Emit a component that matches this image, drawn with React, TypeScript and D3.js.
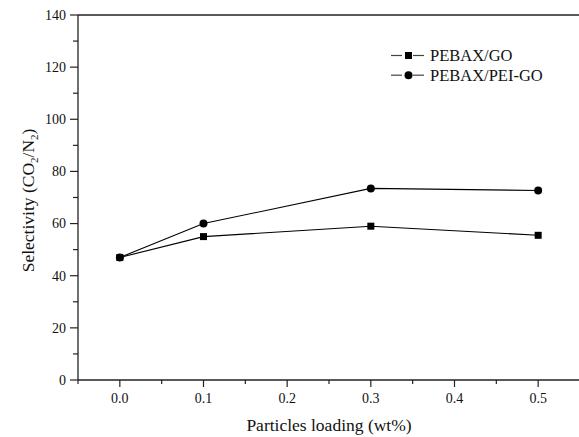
import React from "react";
import * as d3 from "d3";

const loadings = [0.0, 0.1, 0.3, 0.5];
const pebaxGO = [47, 55, 59, 55.5];
const pebaxPEIGO = [47, 60, 73.5, 72.7];
const seriesNames = ["PEBAX/GO", "PEBAX/PEI-GO"];
const xTicks = [0.0, 0.1, 0.2, 0.3, 0.4, 0.5];
const xMinor = [-0.05, 0.05, 0.15, 0.25, 0.35, 0.45, 0.55];
const yTicks = [0, 20, 40, 60, 80, 100, 120, 140];
const yMinor = [10, 30, 50, 70, 90, 110, 130];

const W = 579;
const H = 437;
const TXT = { fontFamily: "Liberation Serif" };

export default function App() {
  const x = d3.scaleLinear().domain([-0.05, 0.55]).range([78, 580]);
  const y = d3.scaleLinear().domain([0, 140]).range([380, 15]);

  const line = d3
    .line<number>()
    .x((_, i) => x(loadings[i]))
    .y((d) => y(d));

  const x0 = x(-0.05);
  const y0 = y(0);

  return (
    <svg
      width={W}
      height={H}
      style={{ position: "absolute", left: 0, top: 0, background: "#fff" }}
    >
      <rect width={W} height={H} fill="#fff" />
      {/* frame */}
      <line x1={x0} x2={W} y1={y(140)} y2={y(140)} stroke="#222" strokeWidth={1.3} />
      <line x1={x0} x2={x0} y1={y(140)} y2={y0} stroke="#222" strokeWidth={1.3} />
      <line x1={x0} x2={W} y1={y0} y2={y0} stroke="#222" strokeWidth={1.3} />

      {/* y ticks */}
      {yTicks.map((t) => (
        <g key={"yt" + t}>
          <line x1={x0 - 8} x2={x0} y1={y(t)} y2={y(t)} stroke="#222" strokeWidth={1.2} />
          <text x={x0 - 12} y={y(t)} dy="0.35em" textAnchor="end" fontSize={14} fill="#111" style={TXT}>
            {t}
          </text>
        </g>
      ))}
      {yMinor.map((t) => (
        <line key={"ym" + t} x1={x0 - 5} x2={x0} y1={y(t)} y2={y(t)} stroke="#222" strokeWidth={1.2} />
      ))}

      {/* x ticks */}
      {xTicks.map((t) => (
        <g key={"xt" + t}>
          <line x1={x(t)} x2={x(t)} y1={y0} y2={y0 + 7} stroke="#222" strokeWidth={1.2} />
          <text x={x(t)} y={y0 + 23} textAnchor="middle" fontSize={14} fill="#111" style={TXT}>
            {d3.format(".1f")(t)}
          </text>
        </g>
      ))}
      {xMinor.map((t) => (
        <line key={"xm" + t} x1={x(t)} x2={x(t)} y1={y0} y2={y0 + 4} stroke="#222" strokeWidth={1.2} />
      ))}

      {/* axis titles */}
      <text x={329} y={431} textAnchor="middle" fontSize={17.5} fill="#111" style={TXT}>
        Particles loading (wt%)
      </text>
      <text
        transform={`translate(34,200.5) rotate(-90)`}
        textAnchor="middle"
        fontSize={17.5}
        fill="#111"
        style={TXT}
      >
        Selectivity (CO<tspan fontSize={11} dy={4}>2</tspan>
        <tspan dy={-4}>/N</tspan>
        <tspan fontSize={11} dy={4}>2</tspan>
        <tspan dy={-4}>)</tspan>
      </text>

      {/* series lines */}
      <path d={line(pebaxGO) || ""} fill="none" stroke="#000" strokeWidth={1.1} />
      <path d={line(pebaxPEIGO) || ""} fill="none" stroke="#000" strokeWidth={1.1} />

      {/* markers */}
      {pebaxGO.map((v, i) => (
        <rect
          key={"s" + i}
          x={x(loadings[i]) - 3.5}
          y={y(v) - 3.5}
          width={7}
          height={7}
          fill="#000"
        />
      ))}
      {pebaxPEIGO.map((v, i) => (
        <circle key={"c" + i} cx={x(loadings[i])} cy={y(v)} r={4} fill="#000" />
      ))}

      {/* legend */}
      {seriesNames.map((name, i) => {
        const ly = 55.5 + i * 19.7;
        return (
          <g key={name}>
            <line x1={391} x2={402} y1={ly} y2={ly} stroke="#444" strokeWidth={1.2} />
            <line x1={413} x2={424} y1={ly} y2={ly} stroke="#444" strokeWidth={1.2} />
            {i === 0 ? (
              <rect x={405} y={ly - 3.5} width={7} height={7} fill="#000" />
            ) : (
              <circle cx={408.5} cy={ly} r={4} fill="#000" />
            )}
            <text x={430} y={ly} dy="0.35em" fontSize={16.5} fill="#111" style={TXT}>
              {name}
            </text>
          </g>
        );
      })}
    </svg>
  );
}
